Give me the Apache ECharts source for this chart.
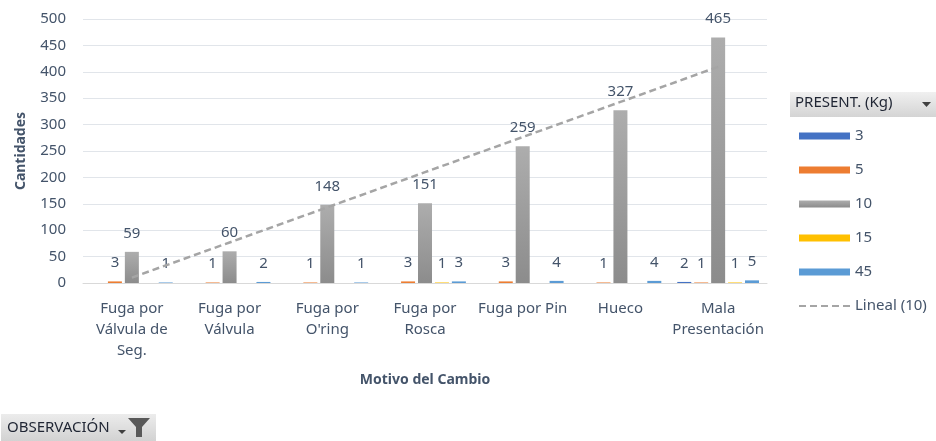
<!DOCTYPE html>
<html>
<head>
<meta charset="utf-8">
<script src="https://cdn.jsdelivr.net/npm/echarts@6/dist/echarts.min.js"></script>
<style>
  html, body { margin: 0; padding: 0; background: #fff; }
  #chart { width: 936px; height: 441px; }
</style>
</head>
<body>
<div id="chart"></div>
<script>
// categorias (motivo del cambio)
const categories = [
  'Fuga por\nVálvula de\nSeg.',
  'Fuga por\nVálvula',
  'Fuga por\nO\'ring',
  'Fuga por\nRosca',
  'Fuga por Pin',
  'Hueco',
  'Mala\nPresentación'
];

// cantidades por presentación (Kg)
const kg3 = [null, null, null, null, null, null, 2];
const kg5 = [3, 1, 1, 3, 3, 1, 1];
const kg10 = [59, 60, 148, 151, 259, 327, 465];
const kg15 = [null, null, null, 1, null, null, 1];
const kg45 = [1, 2, 1, 3, 4, 4, 5];

const yTicks = { min: 0, max: 500, interval: 50 };

// linea de tendencia lineal sobre la serie de 10 Kg
function linearTrend(values) {
  const n = values.length;
  let sx = 0, sy = 0, sxy = 0, sxx = 0;
  values.forEach((y, i) => {
    const x = i + 1;
    sx += x; sy += y; sxy += x * y; sxx += x * x;
  });
  const slope = (n * sxy - sx * sy) / (n * sxx - sx * sx);
  const icpt = (sy - slope * sx) / n;
  return values.map((_, i) => +(icpt + slope * (i + 1)).toFixed(2));
}
const trend10 = linearTrend(kg10);

const FONT = 'Noto Sans';
const TXT = '#44546A';

const barLabel = {
  show: true,
  position: 'top',
  distance: 11,
  color: TXT,
  fontFamily: FONT,
  fontSize: 15
};

function barSeries(name, data, color) {
  return {
    name: name,
    type: 'bar',
    data: data,
    barWidth: 14,
    barGap: '21%',
    itemStyle: { color: color },
    label: barLabel
  };
}

const chart = echarts.init(document.getElementById('chart'));

const option = {
  animation: false,
  grid: { left: 83, right: 169, top: 19, bottom: 158 },
  legend: {
    orient: 'vertical',
    left: 793,
    top: 122,
    itemWidth: 51,
    itemHeight: 7,
    itemGap: 16,
    textStyle: { color: TXT, fontFamily: FONT, fontSize: 15, lineHeight: 18 },
    data: [
      { name: '3', icon: 'rect' },
      { name: '5', icon: 'rect' },
      { name: '10', icon: 'rect' },
      { name: '15', icon: 'rect' },
      { name: '45', icon: 'rect' },
      { name: 'Lineal (10)', itemStyle: { opacity: 0 } }
    ]
  },
  xAxis: {
    type: 'category',
    data: categories,
    z: 3,
    name: 'Motivo del Cambio',
    nameLocation: 'middle',
    nameGap: 90,
    nameTextStyle: { color: TXT, fontFamily: FONT, fontSize: 14, fontWeight: 'bold' },
    axisLine: { lineStyle: { color: '#d9d9d9' } },
    axisTick: { show: false },
    axisLabel: {
      color: TXT, fontFamily: FONT, fontSize: 15, lineHeight: 21,
      margin: 15, interval: 0
    }
  },
  yAxis: {
    type: 'value',
    min: yTicks.min,
    max: yTicks.max,
    interval: yTicks.interval,
    name: 'Cantidades',
    nameLocation: 'middle',
    nameRotate: 90,
    nameGap: 55,
    nameTextStyle: { color: TXT, fontFamily: FONT, fontSize: 14, fontWeight: 'bold' },
    axisLine: { show: false },
    axisTick: { show: false },
    axisLabel: { color: TXT, fontFamily: FONT, fontSize: 15, margin: 17 },
    splitLine: { lineStyle: { color: '#e1e5ea', width: 1 } }
  },
  series: [
    barSeries('3', kg3, '#4472C4'),
    barSeries('5', kg5, '#ED7D31'),
    barSeries('10', kg10, new echarts.graphic.LinearGradient(0, 0, 0, 1, [
      { offset: 0, color: '#adadad' },
      { offset: 1, color: '#8c8c8c' }
    ])),
    barSeries('15', kg15, '#FFC000'),
    barSeries('45', kg45, '#5B9BD5'),
    {
      name: 'Lineal (10)',
      type: 'line',
      data: trend10,
      symbol: 'none',
      z: 5,
      itemStyle: { color: '#a5a5a5' },
      lineStyle: { color: '#a5a5a5', width: 2.5, type: [7, 4] }
    }
  ],
  graphic: [
    // cabecera de la leyenda (boton de campo)
    {
      type: 'rect',
      shape: { x: 790, y: 92, width: 146, height: 25 },
      style: {
        fill: new echarts.graphic.LinearGradient(0, 0, 0, 1, [
          { offset: 0, color: '#f0f0f0' },
          { offset: 1, color: '#d4d4d4' }
        ])
      }
    },
    {
      type: 'text',
      left: 795, top: 95,
      style: { text: 'PRESENT. (Kg)', fill: '#1f2533', font: '15px "Noto Sans"' }
    },
    {
      type: 'polygon',
      shape: { points: [[922, 102], [931, 102], [926.5, 107]] },
      style: { fill: '#404040' }
    },
    // boton OBSERVACIÓN
    {
      type: 'rect',
      shape: { x: 1, y: 414, width: 155, height: 27 },
      style: {
        fill: new echarts.graphic.LinearGradient(0, 0, 0, 1, [
          { offset: 0, color: '#ececec' },
          { offset: 1, color: '#d2d2d2' }
        ])
      }
    },
    {
      type: 'text',
      left: 7, top: 420,
      style: { text: 'OBSERVACIÓN', fill: '#1f2533', font: '15px "Noto Sans"' }
    },
    {
      type: 'polygon',
      shape: { points: [[118, 430], [126, 430], [122, 434]] },
      style: { fill: '#404040' }
    },
    {
      type: 'polygon',
      shape: { points: [[128, 418], [150, 418], [142, 427], [142, 437], [136, 437], [136, 427]] },
      style: { fill: '#595959' }
    }
  ]
};

chart.setOption(option);
</script>
</body>
</html>
